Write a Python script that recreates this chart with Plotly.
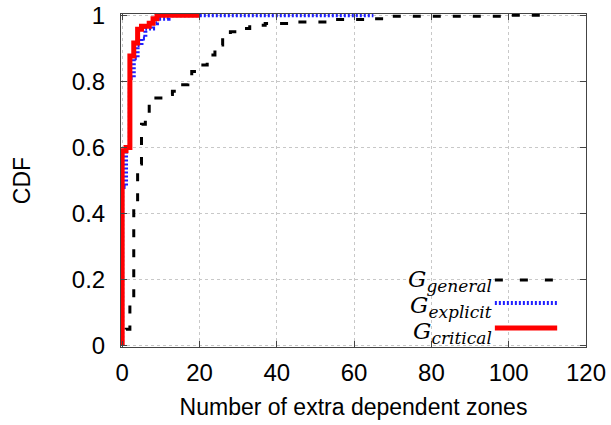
import plotly.graph_objects as go

# CDF step data (x = number of extra dependent zones, y = CDF)
general_x = [0, 1, 2, 3, 4, 5, 6, 7, 8, 12, 13, 15, 17, 18, 20, 22, 24, 26, 28, 30, 33, 37, 43, 53, 65, 70, 100, 110]
general_y = [0.02, 0.05, 0.13, 0.42, 0.55, 0.67, 0.70, 0.73, 0.75, 0.76, 0.77, 0.79, 0.80, 0.83, 0.85, 0.88, 0.91, 0.94, 0.95, 0.96, 0.97, 0.975, 0.98, 0.987, 0.99, 0.997, 1.0, 1.0]

explicit_x = [0, 1, 2, 3, 4, 5, 6, 8, 9, 12, 65]
explicit_y = [0.48, 0.60, 0.81, 0.87, 0.91, 0.93, 0.96, 0.976, 0.99, 1.0, 1.0]

critical_x = [0, 1, 2, 3, 4, 5, 7, 8, 9, 20]
critical_y = [0.59, 0.60, 0.877, 0.916, 0.958, 0.967, 0.976, 0.99, 1.0, 1.0]

x_ticks = [0, 20, 40, 60, 80, 100, 120]
y_ticks = [0, 0.2, 0.4, 0.6, 0.8, 1]
y_tick_text = ["0", "0.2", "0.4", "0.6", "0.8", "1"]

legend_labels = [
    "<i>G</i><sub><span style='font-size:17px'><i>general</i></span></sub>",
    "<i>G</i><sub><span style='font-size:17px'><i>explicit</i></span></sub>",
    "<i>G</i><sub><span style='font-size:17px'><i>critical</i></span></sub>",
]

fig = go.Figure()

# start each CDF from 0 at x=0 (vertical rise)
fig.add_trace(go.Scatter(x=[0] + general_x, y=[0] + general_y, mode="lines",
                         line=dict(shape="hv", color="black", width=3, dash="8px,12px"),
                         showlegend=False))
fig.add_trace(go.Scatter(x=[0] + explicit_x, y=[0] + explicit_y, mode="lines",
                         line=dict(shape="hv", color="#1f1fff", width=4, dash="2px,2px"),
                         showlegend=False))
fig.add_trace(go.Scatter(x=[0] + critical_x, y=[0] + critical_y, mode="lines",
                         line=dict(shape="hv", color="#ff0000", width=5),
                         showlegend=False))

# manual legend (text to the left of the line sample)
styles = [
    dict(color="black", width=3, dash="8px,17px"),
    dict(color="#1f1fff", width=4, dash="2px,2px"),
    dict(color="#ff0000", width=5, dash="solid"),
]
leg_y = [0.201, 0.132, 0.057]
text_dy = [-0.004, -0.012, -0.014]
for lab, st, yy, dy in zip(legend_labels, styles, leg_y, text_dy):
    fig.add_annotation(x=0.802, y=yy + dy, xref="paper", yref="paper", text=lab,
                       showarrow=False, xanchor="right", yanchor="middle",
                       font=dict(family="DejaVu Serif", size=23, color="black"))
    fig.add_shape(type="line", xref="paper", yref="paper", x0=0.804, x1=0.938,
                  y0=yy, y1=yy, line=st)

axis_common = dict(showline=True, linecolor="#444", linewidth=1, mirror="ticks",
                   ticks="inside", ticklen=6, tickcolor="#444",
                   showgrid=True, gridcolor="#c8c8c8", griddash="dot", gridwidth=1,
                   zeroline=False, automargin=False,
                   tickfont=dict(family="Liberation Sans", size=24, color="black"))

fig.update_xaxes(range=[-0.3, 120], tickvals=x_ticks, **axis_common,
                 ticklabelstandoff=4,
                 title=dict(text="Number of extra dependent zones",
                            font=dict(family="Liberation Sans", size=23, color="black"),
                            standoff=14))
fig.update_yaxes(range=[-0.004, 1.004], tickvals=y_ticks, ticktext=y_tick_text, **axis_common,
                 ticklabelstandoff=10,
                 title=dict(text="CDF", font=dict(family="Liberation Sans", size=23, color="black"),
                            standoff=34))

fig.update_layout(width=611, height=425, margin=dict(l=121, r=25, t=14, b=78),
                  plot_bgcolor="white", paper_bgcolor="white")

fig.write_html("out.html")
